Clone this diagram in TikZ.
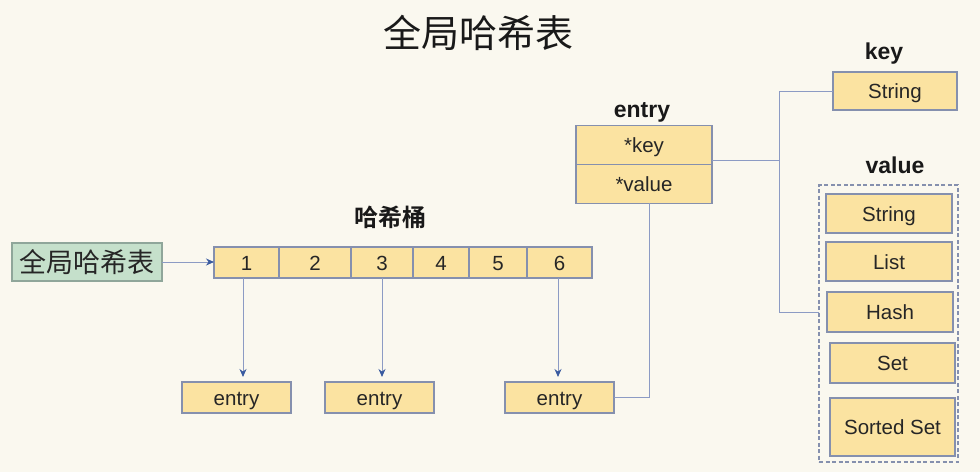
\documentclass[tikz,border=0pt]{standalone}
\usepackage{fontspec}
\setmainfont{Liberation Sans}
\newfontfamily\cjk{Noto Sans CJK SC}
\newfontfamily\cjkb{Noto Sans CJK SC Bold}
\usetikzlibrary{arrows.meta}
\definecolor{bg}{HTML}{FAF8EF}
\definecolor{yfill}{HTML}{FBE3A1}
\definecolor{bdr}{HTML}{8590AE}
\definecolor{gfill}{HTML}{C5E0CB}
\definecolor{gbdr}{HTML}{8FA69A}
\definecolor{conn}{HTML}{8C9BC4}
\definecolor{tip}{HTML}{3A5BA0}
\tikzset{
  ybox/.style={draw=bdr, fill=yfill, line width=1.3pt, inner sep=0pt, outer sep=0pt, font=\fontsize{20.5}{22}\selectfont, text=black!85, text height=15pt, text depth=0pt},
  gbox/.style={draw=gbdr, fill=gfill, line width=1.3pt, inner sep=0pt, outer sep=0pt, font=\cjk\fontsize{27}{30}\selectfont, text=black!85},
  lbl/.style={font=\bfseries\fontsize{23}{25}\selectfont, text=black!90, inner sep=0pt},
  cline/.style={draw=conn, line width=1pt},
  arr/.style={draw=conn, line width=1pt, -{Stealth[length=8pt,width=7pt,color=tip]}},
  dbox/.style={draw=bdr, dash pattern=on 4pt off 2.5pt, line width=1.2pt, inner sep=0pt, outer sep=0pt},
}
\begin{document}
\begin{tikzpicture}[x=1pt,y=-1pt]
\fill[bg] (0,0) rectangle (980,472);
\useasboundingbox (0,0) rectangle (980,472);

\node[font=\cjk\fontsize{38}{40}\selectfont, text=black!90] (title) at (478,33) {全局哈希表};

\node[gbox, minimum width=150pt, minimum height=38pt] (g) at (87,262) {全局哈希表};

\node[font=\cjkb\fontsize{24}{26}\selectfont, text=black!90] (hb) at (390,217) {哈希桶};
\node[ybox, minimum width=65pt, minimum height=31pt] (c1) at (246.5,262.5) {1};
\node[ybox, minimum width=72pt, minimum height=31pt] (c2) at (315,262.5) {2};
\node[ybox, minimum width=62pt, minimum height=31pt] (c3) at (382,262.5) {3};
\node[ybox, minimum width=56pt, minimum height=31pt] (c4) at (441,262.5) {4};
\node[ybox, minimum width=58pt, minimum height=31pt] (c5) at (498,262.5) {5};
\node[ybox, minimum width=65pt, minimum height=31pt] (c6) at (559.5,262.5) {6};

\node[ybox, minimum width=109pt, minimum height=31pt] (e1) at (236.5,397.5) {entry};
\node[ybox, minimum width=109pt, minimum height=31pt] (e2) at (379.5,397.5) {entry};
\node[ybox, minimum width=109pt, minimum height=31pt] (e3) at (559.5,397.5) {entry};

\node[lbl] (entl) at (642,112) {entry};
\node[ybox, minimum width=136pt, minimum height=38.5pt] (ekey) at (644,145) {*key};
\node[ybox, minimum width=136pt, minimum height=39pt] (eval) at (644,183.7) {*value};

\node[lbl] (keyl) at (884,54) {key};
\node[ybox, minimum width=124pt, minimum height=38pt] (kstr) at (895,91) {String};

\node[lbl] (vall) at (895,165) {value};
\node[dbox, minimum width=139pt, minimum height=277pt] (vbox) at (888.5,323.5) {};
\node[ybox, minimum width=126pt, minimum height=39pt] (v1) at (889,213.5) {String};
\node[ybox, minimum width=126pt, minimum height=39pt] (v2) at (889,261.5) {List};
\node[ybox, minimum width=126pt, minimum height=40pt] (v3) at (890,312) {Hash};
\node[ybox, minimum width=125pt, minimum height=40pt] (v4) at (892.5,363) {Set};
\node[ybox, minimum width=125pt, minimum height=58pt] (v5) at (892.5,427) {Sorted Set};

\draw[arr] (g.east) -- (g.east -| c1.west);
\draw[arr, shorten >=5pt] ([xshift=-3.5pt]c1.south) -- ([xshift=-3.5pt]c1.south |- e1.north);
\draw[arr, shorten >=5pt] (c3.south) -- (c3.south |- e2.north);
\draw[arr, shorten >=5pt] ([xshift=-1.5pt]c6.south) -- ([xshift=-1.5pt]c6.south |- e3.north);

\draw[cline] (e3.east) -| ([xshift=5pt]eval.south);
\draw[cline] ([yshift=-15pt]ekey.east) -- ++(67,0) coordinate (jn) |- (kstr.west);
\draw[cline] (jn) |- ([yshift=11.5pt]vbox.west);
\end{tikzpicture}
\end{document}
